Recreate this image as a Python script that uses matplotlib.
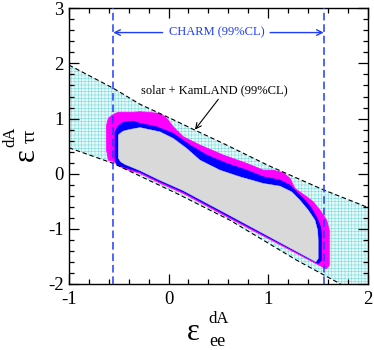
import matplotlib
matplotlib.use('Agg')
import matplotlib.pyplot as plt
from matplotlib.patches import Polygon
from matplotlib.ticker import MultipleLocator

plt.rcParams['font.family'] = ['Liberation Serif', 'DejaVu Serif']
plt.rcParams['hatch.linewidth'] = 0.35

# ---------------- data ----------------
band_upper_x = [-1.0, -0.555, -0.287, 0.047, 0.265, 0.549, 1.001, 1.553, 2.0]
band_upper_y = [1.97, 1.55, 1.26, 0.98, 0.79, 0.55, 0.15, -0.29, -0.61]
band_lower_x = [-1.0, -0.555, 0.081, 0.616, 0.951, 1.286, 1.688, 2.0]
band_lower_y = [0.47, 0.187, -0.357, -0.842, -1.205, -1.568, -1.962, -2.28]

outer_x = [-0.605, -0.622, -0.622, -0.605, -0.555, -0.505, -0.354, -0.287, -0.086, -0.019,
           0.047, 0.148, 0.315, 0.549, 0.784, 0.951, 1.051, 1.152, 1.219, 1.269,
           1.387, 1.453, 1.520, 1.587, 1.614, 1.614, 1.587, 1.570, 0.617, 0.148,
           -0.086, -0.287, -0.455, -0.505, -0.555]
outer_y = [0.247, 0.428, 0.882, 1.004, 1.076, 1.113, 1.113, 1.123, 1.094, 1.004,
           0.851, 0.670, 0.519, 0.338, 0.187, 0.065, 0.065, 0.016, -0.085, -0.267,
           -0.419, -0.510, -0.661, -0.842, -1.024, -1.659, -1.719, -1.713, -0.811, -0.357,
           -0.171, 0.006, 0.096, 0.156, 0.229]

middle_x = [-0.521, -0.538, -0.538, -0.505, -0.455, -0.354, -0.287, -0.120, 0.047, 0.215,
            0.383, 0.583, 0.784, 0.951, 1.119, 1.219, 1.286, 1.370, 1.437, 1.493,
            1.527, 1.537, 1.537, 1.503, 0.617, 0.148, -0.086, -0.287, -0.455, -0.488]
middle_y = [0.169, 0.247, 0.760, 0.869, 0.931, 0.955, 0.913, 0.851, 0.731, 0.519,
            0.338, 0.187, 0.065, -0.056, -0.116, -0.207, -0.328, -0.479, -0.630, -0.811,
            -0.964, -1.114, -1.568, -1.628, -0.784, -0.330, -0.143, 0.033, 0.123, 0.147]

inner_x = [-0.481, -0.505, -0.505, -0.488, -0.455, -0.388, -0.287, -0.086, 0.047, 0.182,
           0.315, 0.516, 0.717, 0.951, 1.119, 1.236, 1.319, 1.403, 1.470, 1.497,
           1.503, 1.503, 1.480, 0.617, 0.148, -0.086, -0.287, -0.438]
inner_y = [0.216, 0.283, 0.701, 0.731, 0.773, 0.804, 0.837, 0.760, 0.641, 0.459,
           0.247, 0.065, -0.056, -0.176, -0.225, -0.328, -0.479, -0.661, -0.842, -1.024,
           -1.205, -1.537, -1.599, -0.760, -0.307, -0.120, 0.056, 0.169]

charm_limits = [-0.555, 1.558]
charm_arrow_y = 2.56

x_ticks = [-1, 0, 1, 2]
y_ticks = [-2, -1, 0, 1, 2, 3]

# ---------------- figure ----------------
W, H = 374, 350
fig = plt.figure(figsize=(W / 100, H / 100), dpi=100)
ax = fig.add_axes([69 / W, 1 - 284 / H, (367.7 - 69) / W, (284 - 8.3) / H])
ax.set_xlim(-1, 2)
ax.set_ylim(-2, 3)

band = Polygon(list(zip(band_upper_x + band_lower_x[::-1],
                        band_upper_y + band_lower_y[::-1])),
               closed=True, facecolor='#e4fafa', edgecolor='#70d8d8',
               hatch='+++++', linewidth=0, zorder=1)
ax.add_patch(band)

ax.add_patch(Polygon(list(zip(outer_x, outer_y)), closed=True,
                     facecolor='#ff00ff', edgecolor='#ff00ff', lw=0.6, zorder=2))
ax.add_patch(Polygon(list(zip(middle_x, middle_y)), closed=True,
                     facecolor='#0000ff', edgecolor='#0000ff', lw=0.5, zorder=3))
ax.add_patch(Polygon(list(zip(inner_x, inner_y)), closed=True,
                     facecolor='#d9d9d9', edgecolor='#d9d9d9', lw=0.3, zorder=4))

ax.plot(band_upper_x, band_upper_y, color='black', lw=0.8, dashes=(4, 2.5), zorder=5)
ax.plot(band_lower_x, band_lower_y, color='black', lw=0.8, dashes=(4, 2.5), zorder=5)

charm_color = '#1f3cff'
for xv in charm_limits:
    ax.axvline(xv, color=charm_color, lw=1.1, dashes=(5, 2.5), zorder=6)

ax.text(0.48, charm_arrow_y, 'CHARM (99%CL)', color=charm_color, fontsize=9,
        ha='center', va='center', zorder=7)
ax.annotate('', xy=(charm_limits[0], charm_arrow_y), xytext=(-0.06, charm_arrow_y),
            arrowprops=dict(arrowstyle='->', color=charm_color, lw=1.0,
                            shrinkA=0, shrinkB=0), zorder=7)
ax.annotate('', xy=(charm_limits[1], charm_arrow_y), xytext=(1.02, charm_arrow_y),
            arrowprops=dict(arrowstyle='->', color=charm_color, lw=1.0,
                            shrinkA=0, shrinkB=0), zorder=7)

ax.text(0.457, 1.505, 'solar + KamLAND (99%CL)', color='black', fontsize=9,
        ha='center', va='center', zorder=7)
ax.annotate('', xy=(0.265, 0.80), xytext=(0.50, 1.35),
            arrowprops=dict(arrowstyle='->', color='black', lw=0.8,
                            shrinkA=0, shrinkB=0), zorder=7)

ax.set_xticks(x_ticks)
ax.set_yticks(y_ticks)
ax.xaxis.set_minor_locator(MultipleLocator(0.2))
ax.yaxis.set_minor_locator(MultipleLocator(0.2))
ax.tick_params(which='both', direction='in', top=True, right=True, width=0.9)
ax.tick_params(which='major', length=7, labelsize=13.5)
ax.tick_params(axis='x', which='major', pad=5)
ax.tick_params(axis='y', which='major', pad=4)
ax.tick_params(which='minor', length=3.5)
for s in ax.spines.values():
    s.set_linewidth(1.0)
ax.set_xticklabels([str(t) if t >= 0 else '-' + str(-t) for t in x_ticks])
ax.set_yticklabels([str(t) if t >= 0 else '-' + str(-t) for t in y_ticks])

# axis labels (epsilon with super/subscripts)
fig.text(193 / W, 1 - 333 / H, 'ε', fontsize=22, ha='center', va='center')
fig.text(219 / W, 1 - 319 / H, 'dA', fontsize=12, ha='center', va='center')
fig.text(217 / W, 1 - 341 / H, 'ee', fontsize=13, ha='center', va='center')

fig.text(26 / W, 1 - 155 / H, 'ε', fontsize=22, ha='center', va='center', rotation=90)
fig.text(10 / W, 1 - 137 / H, 'dA', fontsize=12, ha='center', va='center', rotation=90)
fig.text(30 / W, 1 - 136 / H, 'ττ', fontsize=13, ha='center', va='center', rotation=90)

fig.savefig('out.png', dpi=100)
